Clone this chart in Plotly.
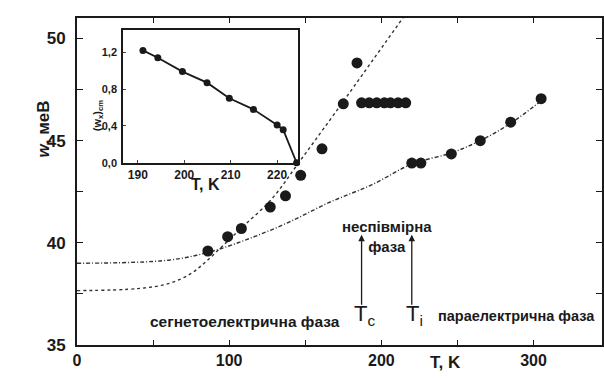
import plotly.graph_objects as go

# Main data (T, K ; w, meV)
main_T = [86, 99, 108, 127, 137, 147, 161, 175, 184]
main_w = [39.6, 40.3, 40.7, 41.75, 42.3, 43.3, 44.6, 46.8, 48.8]
incomm_T = [187, 192, 197, 202, 206, 211, 216]
incomm_w = [46.85, 46.85, 46.85, 46.85, 46.85, 46.85, 46.85]
para_T = [220, 226, 246, 265, 285, 305]
para_w = [43.9, 43.9, 44.35, 45.0, 45.9, 47.05]

# Dotted (steep) guide curve, traced
steep_T = [0, 40, 60, 75, 85, 95, 107, 128, 146, 169, 217]
steep_w = [37.66, 37.76, 38.0, 38.5, 39.1, 39.8, 40.65, 42.15, 43.95, 46.3, 51.3]
# Dash-dot guide curve, traced
dd_T = [0, 60, 87, 113, 139, 165, 194, 220, 246, 265, 285, 305]
dd_w = [39.0, 39.15, 39.55, 40.2, 41.0, 41.95, 42.85, 43.85, 44.4, 45.0, 45.85, 46.95]

# Inset data
ins_T = [191.1, 194.3, 199.6, 204.9, 209.7, 214.9, 220.0, 221.3, 224.2]
ins_w = [1.22, 1.14, 0.99, 0.87, 0.70, 0.58, 0.41, 0.36, 0.0]

x_ticks = [0, 100, 200, 300]
x_minor = [50, 150, 250]
y_ticks = [35, 40, 45, 50]
y_minor = [37.5, 42.5, 47.5]
ins_xticks = [190, 200, 210, 220]
ins_yticks = [0.0, 0.4, 0.8, 1.2]
ins_ylabels = ["0,0", "0,4", "0,8", "1,2"]
transitions_T = [187, 220]

FONT = "Liberation Sans"
INK = "#1a1a1a"

fig = go.Figure()
fig.add_trace(go.Scatter(x=steep_T, y=steep_w, mode="lines", line=dict(color="#333", width=1.4, dash="dot", shape="spline"), showlegend=False))
fig.add_trace(go.Scatter(x=dd_T, y=dd_w, mode="lines", line=dict(color="#333", width=1.4, dash="4px,2px,1px,2px", shape="spline"), showlegend=False))
for xs, ys in [(main_T, main_w), (incomm_T, incomm_w), (para_T, para_w)]:
    fig.add_trace(go.Scatter(x=xs, y=ys, mode="markers", marker=dict(color=INK, size=11), showlegend=False))

fig.add_trace(go.Scatter(x=ins_T, y=ins_w, mode="lines+markers", xaxis="x2", yaxis="y2",
                         line=dict(color=INK, width=1.8), marker=dict(color=INK, size=7),
                         cliponaxis=False, showlegend=False))

axis_common = dict(showline=True, linecolor=INK, linewidth=2, mirror="ticks", ticks="inside",
                   tickcolor=INK, showgrid=False, zeroline=False, automargin=False)

fig.update_layout(
    width=604, height=379, plot_bgcolor="white", paper_bgcolor="white",
    margin=dict(l=77, r=2, t=18, b=34),
    font=dict(family=FONT, color=INK),
    xaxis=dict(range=[0, 345], tickvals=x_ticks, ticklen=5,
               minor=dict(tickvals=x_minor, ticks="inside", ticklen=5, tickcolor=INK, showgrid=False),
               tickfont=dict(size=16, weight="bold"), **axis_common),
    yaxis=dict(range=[35, 51], tickvals=y_ticks, ticklen=6,
               minor=dict(tickvals=y_minor, ticks="inside", ticklen=6, tickcolor=INK, showgrid=False),
               tickfont=dict(size=17, weight="bold"), ticklabelstandoff=6, **axis_common),
    xaxis2=dict(domain=[0.0876, 0.421], anchor="y2", range=[186.8, 224.5], tickvals=ins_xticks,
                ticklen=3, tickfont=dict(size=12, weight="bold"), showline=True, linecolor=INK,
                linewidth=1.5, mirror=True, ticks="inside", showgrid=False, zeroline=False,
                automargin=False),
    yaxis2=dict(domain=[0.557, 0.963], anchor="x2", range=[0, 1.44], tickvals=ins_yticks,
                ticktext=ins_ylabels, ticklen=3, tickfont=dict(size=11, weight="bold"),
                ticklabelstandoff=2,
                showline=True, linecolor=INK, linewidth=1.5, mirror=True, ticks="inside",
                showgrid=False, zeroline=False, automargin=False),
)

ann = []
ann.append(dict(text="<i>w</i>, меВ", xref="paper", yref="paper", x=-0.085, y=0.755, textangle=-90,
                showarrow=False, font=dict(size=17, weight="bold")))
ann.append(dict(text="T, K", xref="paper", yref="paper", x=0.735, y=-0.052, showarrow=False,
                font=dict(size=17, weight="bold"), yanchor="middle"))
ann.append(dict(text="T, K", xref="x2", yref="paper", x=204.5, y=0.49, showarrow=False,
                font=dict(size=16, weight="bold")))
ann.append(dict(text="(w<sub>x</sub>)<sub>cm</sub>", xref="paper", yref="paper", x=0.022, y=0.755,
                textangle=-90, showarrow=False, font=dict(size=11, weight="bold")))
ann.append(dict(text="сегнетоелектрична фаза", x=46.5, y=36.15, xanchor="left", showarrow=False,
                font=dict(size=15.5, weight="bold")))
ann.append(dict(text="параелектрична фаза", x=236, y=36.4, xanchor="left", showarrow=False,
                font=dict(size=14.5, weight="bold")))
ann.append(dict(text="неспівмірна<br>фаза", x=203.5, y=40.3, showarrow=False,
                font=dict(size=15, weight="bold")))
ann.append(dict(text="T<sub>c</sub>", x=189, y=36.45, showarrow=False, font=dict(size=22)))
ann.append(dict(text="T<sub>i</sub>", x=222, y=36.45, showarrow=False, font=dict(size=22)))
for tx in transitions_T:
    ann.append(dict(text="", x=tx, y=40.4, ax=tx, ay=36.9, axref="x", ayref="y", showarrow=True,
                    arrowhead=2, arrowsize=1, arrowwidth=1.3, arrowcolor=INK))
fig.update_layout(annotations=ann)

fig.write_html("out.html", config={"displayModeBar": False},
               post_script="document.body.style.margin='0';document.body.style.overflow='hidden';")
